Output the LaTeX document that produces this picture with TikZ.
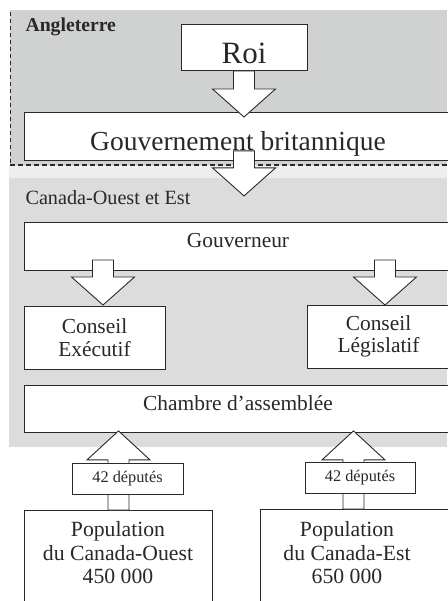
\documentclass[tikz,border=0pt]{standalone}
\usepackage{fontspec}
\setmainfont{Liberation Serif}
\usepackage{xcolor}
\usetikzlibrary{calc}

\definecolor{angleterregray}{RGB}{208,209,209}
\definecolor{bandgray}{RGB}{238,238,238}
\definecolor{canadagray}{RGB}{220,220,220}
\definecolor{inkgray}{RGB}{40,40,40}

% block arrow from shaft start #1 to tip #2
\newcommand{\downblock}[2]{%
  \draw[blockarrow] ($(#1)+(-10.5,0)$) -- ($(#2)+(-10.5,-28)$) -- ($(#2)+(-31.5,-28)$) -- (#2)
    -- ($(#2)+(31.5,-28)$) -- ($(#2)+(10.5,-28)$) -- ($(#1)+(10.5,0)$) -- cycle;}
\newcommand{\upblock}[2]{%
  \draw[blockarrow] ($(#1)+(-10.5,0)$) -- ($(#2)+(-10.5,29)$) -- ($(#2)+(-31.5,29)$) -- (#2)
    -- ($(#2)+(31.5,29)$) -- ($(#2)+(10.5,29)$) -- ($(#1)+(10.5,0)$) -- cycle;}

\begin{document}
\begin{tikzpicture}[x=1pt,y=-1pt,line join=miter,text=inkgray,
  box/.style={draw=inkgray,line width=0.9pt,fill=white,inner sep=0pt,align=center},
  blockarrow/.style={draw=inkgray,line width=0.9pt,fill=white},
  midfont/.style={font=\fontsize{21.4}{22.5}\selectfont},
  popfont/.style={font=\fontsize{21.7}{23.5}\selectfont}]
  \useasboundingbox (0,0) rectangle (447,601);
  % backgrounds
  \fill[angleterregray] (10,10) rectangle (447,165);
  \fill[bandgray] (9,165) rectangle (447,178);
  \fill[canadagray] (9,178) rectangle (447,447);
  \draw[inkgray,line width=0.8pt,dash pattern=on 4pt off 3pt] (10,12) -- (10,165);
  \draw[inkgray,line width=1.3pt,dash pattern=on 5pt off 3pt] (10,165) -- (447,165);
  \node[font=\bfseries\fontsize{19.7}{20}\selectfont,anchor=base west] (angl) at (22,32) {Angleterre};
  \node[font=\fontsize{20.2}{21}\selectfont,anchor=base west] (canada) at (22,205) {Canada-Ouest et Est};

  % boxes
  \node[box,anchor=north,minimum width=126pt,text height=39pt,text depth=7pt,
    font=\fontsize{31}{31}\selectfont] (roi) at (244,24) {Roi};
  \node[box,anchor=north,minimum width=428pt,text height=38pt,text depth=10pt,
    font=\fontsize{27.5}{28}\selectfont] (gb) at (238,112) {Gouvernement britannique};
  \node[box,midfont,anchor=north,minimum width=428pt,text height=25pt,text depth=23pt] (gouv) at (238,222) {Gouverneur};
  \node[box,midfont,minimum width=141pt,minimum height=63pt] (exec) at (94.5,337.5) {Conseil\\Exécutif};
  \node[box,midfont,minimum width=143pt,minimum height=63pt] (legis) at (378.5,336.5) {Conseil\\Législatif};
  \node[box,midfont,anchor=north,minimum width=428pt,text height=25pt,text depth=22pt] (chambre) at (238,385) {Chambre d’assemblée};
  \node[box,anchor=north,minimum width=188pt,minimum height=110pt] (pop1) at (118,510) {};
  \node[box,anchor=north,minimum width=188pt,minimum height=110pt] (pop2) at (354,509) {};
  \node[popfont,align=center] (pop1txt) at (118,553) {Population\\du Canada-Ouest\\450 000};
  \node[popfont,align=center] (pop2txt) at (347,553) {Population\\du Canada-Est\\650 000};

  % arrows
  \coordinate (roitip) at ($(roi.south |- gb.north)+(0,5)$);
  \coordinate (gbstart) at ($(gb.south -| roi.south)+(0,-10)$);
  \coordinate (gbtip) at ($(gb.south -| roi.south)+(0,35)$);
  \coordinate (execstart) at (103,260);
  \coordinate (exectip) at (103,305);
  \coordinate (legisstart) at (385,260);
  \coordinate (legistip) at (385,305);
  \coordinate (ouesttip) at ($(pop1.north |- chambre.south)+(0.5,-2)$);
  \coordinate (esttip) at ($(353.5,0 |- chambre.south)+(0,-2)$);
  \downblock{roi.south}{roitip}
  \downblock{gbstart}{gbtip}
  \downblock{execstart}{exectip}
  \downblock{legisstart}{legistip}
  \upblock{$(pop1.north)+(0.5,0)$}{ouesttip}
  \upblock{353.5,509}{esttip}
  \node[box,minimum width=111pt,minimum height=31pt,font=\fontsize{16.3}{17}\selectfont] (dep1) at (127.5,478.5) {42 députés};
  \node[box,minimum width=110pt,minimum height=31pt,font=\fontsize{16.3}{17}\selectfont] (dep2) at (360,477.5) {42 députés};
\end{tikzpicture}
\end{document}
